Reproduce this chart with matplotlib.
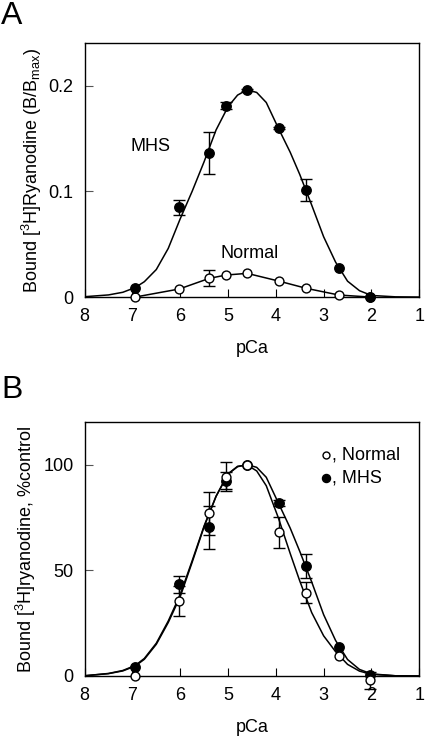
import numpy as np
import matplotlib
matplotlib.use("Agg")
import matplotlib.pyplot as plt

plt.rcParams['font.family'] = ['Liberation Sans', 'DejaVu Sans']
plt.rcParams['mathtext.fontset'] = 'custom'
plt.rcParams['mathtext.rm'] = 'Liberation Sans'
plt.rcParams['mathtext.it'] = 'Liberation Sans:italic'

# ---------------- data ----------------
pca_pts = [6.94, 6.02, 5.39, 5.04, 4.60, 3.93, 3.36, 2.68, 2.03]

# Panel A: absolute binding (B/Bmax)
mhs_A = [0.0085, 0.085, 0.1365, 0.181, 0.196, 0.1595, 0.1015, 0.027, 0.0]
mhs_A_err = [0.0, 0.007, 0.020, 0.003, 0.001, 0.001, 0.0105, 0.0, 0.0]
normal_A = [0.0, 0.0076, 0.0177, 0.0208, 0.0224, 0.0150, 0.0082, 0.0019, 0.0]
normal_A_err = [0.0, 0.0, 0.0075, 0.0, 0.0, 0.0, 0.0, 0.0, 0.0]

# fitted curve
pca_fit = [8.0, 7.5, 7.2, 6.94, 6.75, 6.5, 6.25, 6.0, 5.75, 5.5, 5.25, 5.0, 4.8,
           4.6, 4.4, 4.2, 3.95, 3.7, 3.5, 3.25, 3.0, 2.75, 2.5, 2.25, 2.0, 1.5, 1.0]
mhs_fit_A = [0.0003, 0.002, 0.0045, 0.009, 0.0145, 0.026, 0.046, 0.074, 0.100,
             0.128, 0.158, 0.180, 0.191, 0.196, 0.1935, 0.184, 0.160, 0.137,
             0.116, 0.087, 0.057, 0.033, 0.015, 0.006, 0.0015, 0.0002, 0.0]

# Panel B: % control
normal_B = [0.0, 35.4, 76.9, 94.3, 100.0, 67.9, 39.3, 9.3, -2.0]
normal_B_err = [0.0, 7.0, 10.2, 7.0, 0.0, 7.2, 5.0, 0.0, 4.0]
mhs_B = [4.1, 43.4, 70.3, 92.4, 100.0, 81.7, 52.0, 13.6, 0.6]
mhs_B_err = [0.0, 4.0, 10.0, 4.0, 0.0, 1.5, 5.6, 0.0, 0.0]

mhs_fit_B = [0.1, 1.2, 2.6, 5.0, 8.3, 15.5, 26.0, 38.5, 54.5, 71.0, 85.0, 95.5,
             99.0, 100.0, 98.7, 94.0, 82.0, 70.0, 59.0, 44.5, 29.0, 16.8, 7.8,
             3.1, 1.0, 0.1, 0.0]
normal_fit_B = [0.1, 1.1, 2.4, 4.7, 7.9, 15.0, 25.3, 37.5, 53.8, 70.6, 85.0, 95.6,
                99.2, 99.8, 97.0, 90.0, 75.0, 58.0, 45.0, 30.0, 19.0, 11.5, 5.5,
                2.3, 0.8, 0.1, 0.0]

xticks = [8, 7, 6, 5, 4, 3, 2, 1]
yticks_A = [0, 0.1, 0.2]
yticklabels_A = ['0', '0.1', '0.2']
yticks_B = [0, 50, 100]

# ---------------- figure ----------------
fig = plt.figure(figsize=(4.25, 7.4), dpi=100)
axA = fig.add_axes([0.199, 0.5986, 0.7875, 0.3429])
axB = fig.add_axes([0.199, 0.0865, 0.7875, 0.3428])

FS = 13
ms_f = 6.8
ms_o = 6.4


def style(ax):
    ax.set_xlim(8, 1)
    ax.set_xticks(xticks)
    ax.set_xticklabels([str(t) for t in xticks])
    ax.tick_params(axis='x', direction='in', length=5.5, width=0.8, pad=8,
                   labelsize=FS, top=False)
    ax.tick_params(axis='y', direction='in', length=6, width=0.8, pad=8,
                   labelsize=FS, right=False, color='#555555')
    for s in ax.spines.values():
        s.set_linewidth(1.0)
    ax.set_xlabel('pCa', fontsize=FS, labelpad=11)


def ebar(ax, x, y, e, z):
    x = np.asarray(x); y = np.asarray(y); e = np.asarray(e)
    m = e > 0
    ax.errorbar(x[m], y[m], yerr=e[m], fmt='none', ecolor='black',
                elinewidth=1.0, capsize=4.5, capthick=1.0, zorder=z,
                clip_on=False)


# ----- Panel A -----
style(axA)
axA.set_ylim(0, 0.24)
axA.set_yticks(yticks_A)
axA.set_yticklabels(yticklabels_A)
axA.plot(pca_fit, mhs_fit_A, color='black', lw=1.1, zorder=2)
axA.plot(pca_pts, normal_A, color='black', lw=1.1, zorder=2)
ebar(axA, pca_pts, normal_A, normal_A_err, 3)
axA.plot(pca_pts, normal_A, 'o', ms=ms_o, mfc='white', mec='black', mew=1.0,
         zorder=4, clip_on=False)
ebar(axA, pca_pts, mhs_A, mhs_A_err, 3)
axA.plot(pca_pts, mhs_A, 'o', ms=ms_f, mfc='black', mec='black', zorder=5,
         clip_on=False)
axA.text(6.63, 0.142, 'MHS', fontsize=FS, ha='center', va='center')
axA.text(4.54, 0.0413, 'Normal', fontsize=FS, ha='center', va='center')
axA.set_ylabel(r'Bound [$^3$H]Ryanodine (B/B$_{\mathrm{max}}$)', fontsize=FS,
               labelpad=3)

# ----- Panel B -----
style(axB)
axB.set_ylim(0, 120)
axB.set_yticks(yticks_B)
axB.set_yticklabels([str(t) for t in yticks_B])
axB.plot(pca_fit, mhs_fit_B, color='black', lw=1.1, zorder=2)
axB.plot(pca_fit, normal_fit_B, color='black', lw=1.1, zorder=2)
ebar(axB, pca_pts, mhs_B, mhs_B_err, 3)
ebar(axB, pca_pts, normal_B, normal_B_err, 3)
axB.plot(pca_pts, mhs_B, 'o', ms=ms_f, mfc='black', mec='black', zorder=4,
         clip_on=False)
axB.plot(pca_pts, normal_B, 'o', ms=ms_o, mfc='white', mec='black', mew=1.0,
         zorder=5, clip_on=False)
axB.set_ylabel('Bound [$^3$H]ryanodine, %control', fontsize=FS, labelpad=4)

# legend (manual)
axB.plot([0.722], [0.871], 'o', ms=5.0, mfc='white', mec='black', mew=1.0,
         transform=axB.transAxes)
axB.plot([0.722], [0.782], 'o', ms=5.8, mfc='black', mec='black',
         transform=axB.transAxes)
axB.text(0.738, 0.871, ', Normal', fontsize=FS, ha='left', va='center',
         transform=axB.transAxes)
axB.text(0.738, 0.782, ', MHS', fontsize=FS, ha='left', va='center',
         transform=axB.transAxes)

# panel letters
fig.text(0.003, 0.999, 'A', fontsize=23, ha='left', va='top')
fig.text(0.003, 0.4935, 'B', fontsize=23, ha='left', va='top')

fig.savefig('out.png', dpi=100)
